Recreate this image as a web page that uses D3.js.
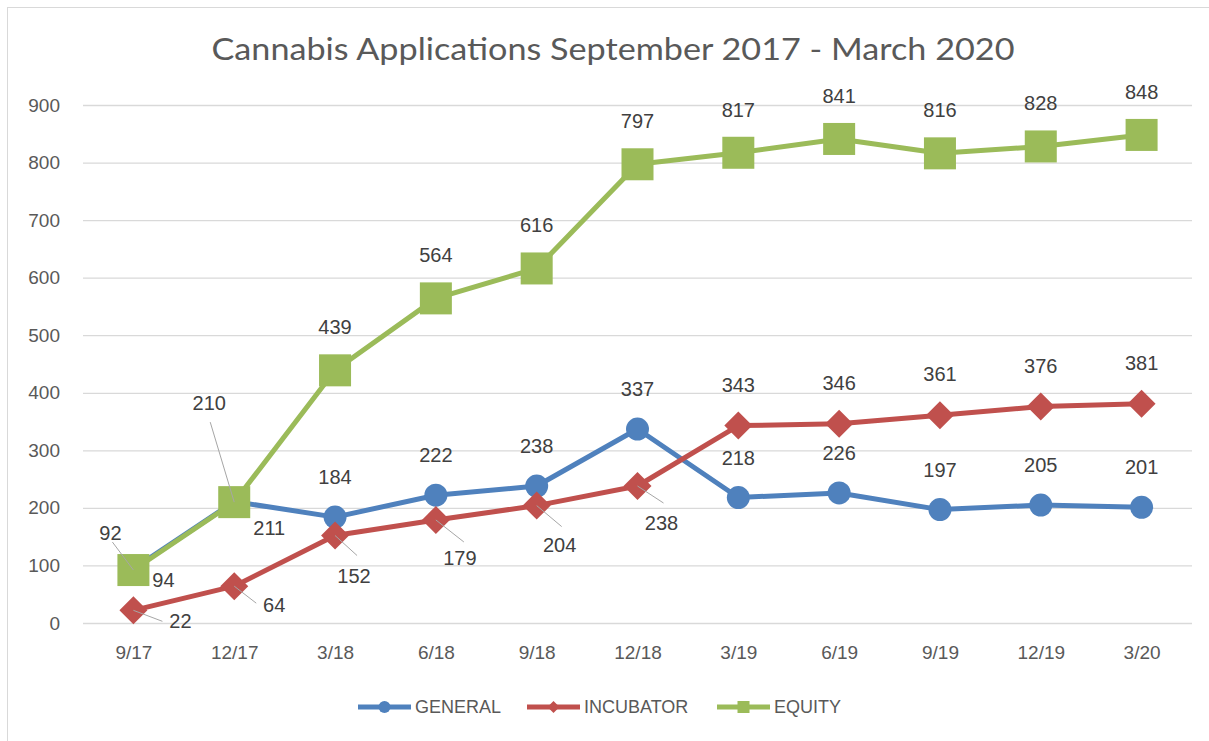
<!DOCTYPE html>
<html lang="en">
<head>
    <meta charset="UTF-8">
    <title>Cannabis Applications</title>
    <script src="https://d3js.org/d3.v7.min.js"></script>
    <style>
        body { margin: 0; background: #fff; }
        svg text { font-family: "Liberation Sans", Arial, sans-serif; }
    </style>
</head>
<body>
<svg id="chart" width="1209" height="741"></svg>
<script>
// data
var quarters = ["9/17", "12/17", "3/18", "6/18", "9/18", "12/18", "3/19", "6/19", "9/19", "12/19", "3/20"];
var general = [94, 211, 184, 222, 238, 337, 218, 226, 197, 205, 201];
var incubator = [22, 64, 152, 179, 204, 238, 343, 346, 361, 376, 381];
var equity = [92, 210, 439, 564, 616, 797, 817, 841, 816, 828, 848];
var yTicks = [0, 100, 200, 300, 400, 500, 600, 700, 800, 900];

var series = [
    {name: "GENERAL", values: general, color: "#4f81bd", marker: "circle", labelDy: -40},
    {name: "INCUBATOR", values: incubator, color: "#c0504d", marker: "diamond", labelDy: -41},
    {name: "EQUITY", values: equity, color: "#9bbb59", marker: "square", labelDy: -43}
];

// labels that were dragged away from the default spot: [dx, dy, leaderX, leaderY]
var moved = {
    "GENERAL-0": [30, 11], "GENERAL-1": [35, 26],
    "INCUBATOR-0": [47, 11, 29, 11], "INCUBATOR-1": [40, 19, 22, 17],
    "INCUBATOR-2": [19, 40, 22, 20], "INCUBATOR-3": [24, 38, 28, 22],
    "INCUBATOR-4": [23, 39, 25, 21], "INCUBATOR-5": [24, 37, 26, 17],
    "EQUITY-0": [-23, -37, -21, -28], "EQUITY-1": [-25, -99, -24, -80]
};

var svg = d3.select("#chart");

// chart border (right and bottom fall outside the frame)
svg.append("rect")
    .attr("x", 7.5).attr("y", 7.5)
    .attr("width", 1230).attr("height", 760)
    .attr("fill", "none").attr("stroke", "#d9d9d9");

svg.append("text")
    .attr("x", 613).attr("y", 60)
    .attr("text-anchor", "middle")
    .attr("fill", "#595959")
    .style("font-family", "Lato, sans-serif")
    .style("font-size", "31px")
    .attr("textLength", 803)
    .attr("lengthAdjust", "spacingAndGlyphs")
    .text("Cannabis Applications September 2017 - March 2020");

var x = d3.scalePoint().domain(quarters).range([83, 1192]).padding(0.5);
var y = d3.scaleLinear().domain([0, 900]).range([623, 105]);

// gridlines
svg.append("g")
    .attr("transform", "translate(83,0)")
    .call(d3.axisLeft(y).tickValues(yTicks).tickSize(-1109).tickFormat(""))
    .call(function(g) {
        g.select(".domain").remove();
        g.selectAll("line").attr("stroke", "#d9d9d9").attr("stroke-width", 1.3);
    });

// y tick labels
svg.append("g")
    .attr("transform", "translate(60,0)")
    .call(d3.axisLeft(y).tickValues(yTicks).tickSize(0).tickPadding(0))
    .call(function(g) {
        g.select(".domain").remove();
        g.selectAll("text").attr("fill", "#595959").style("font-size", "19px");
    });

// x tick labels
svg.append("g")
    .attr("transform", "translate(0,623)")
    .call(d3.axisBottom(x).tickSize(0).tickPadding(23))
    .call(function(g) {
        g.select(".domain").remove();
        g.selectAll("text").attr("fill", "#595959").style("font-size", "19px");
    });

var line = d3.line()
    .x(function(d, i) { return x(quarters[i]); })
    .y(function(d) { return y(d); });

function drawMarker(g, type, color, size) {
    if (type === "circle") {
        g.append("circle").attr("r", size).attr("fill", color);
    } else if (type === "diamond") {
        g.append("path")
            .attr("d", "M0," + (-size) + "L" + size + ",0L0," + size + "L" + (-size) + ",0Z")
            .attr("fill", color);
    } else {
        g.append("rect")
            .attr("x", -size).attr("y", -size)
            .attr("width", size * 2).attr("height", size * 2)
            .attr("fill", color);
    }
}

var markerSize = {circle: 11.5, diamond: 14, square: 16};

series.forEach(function(s) {
    var g = svg.append("g");
    g.append("path")
        .datum(s.values)
        .attr("d", line)
        .attr("fill", "none")
        .attr("stroke", s.color)
        .attr("stroke-width", 5)
        .attr("stroke-linejoin", "round");

    s.values.forEach(function(v, i) {
        var m = g.append("g")
            .attr("transform", "translate(" + x(quarters[i]) + "," + y(v) + ")");
        drawMarker(m, s.marker, s.color, markerSize[s.marker]);
    });
});

// data labels on top of everything
series.forEach(function(s) {
    s.values.forEach(function(v, i) {
        var px = x(quarters[i]), py = y(v);
        var off = moved[s.name + "-" + i];
        var dx = 0, dy = s.labelDy;
        if (off) {
            dx = off[0]; dy = off[1];
            if (off.length > 2) {
                svg.append("line")
                    .attr("x1", px).attr("y1", py)
                    .attr("x2", px + off[2]).attr("y2", py + off[3])
                    .attr("stroke", "#a6a6a6").attr("stroke-width", 1);
            }
        }
        svg.append("text")
            .attr("x", px + dx).attr("y", py + dy)
            .attr("text-anchor", "middle")
            .attr("dominant-baseline", "central")
            .attr("fill", "#404040")
            .style("font-size", "20px")
            .text(v);
    });
});

// legend
var legendItems = [
    {s: series[0], x: 358},
    {s: series[1], x: 527},
    {s: series[2], x: 717}
];
legendItems.forEach(function(it) {
    var g = svg.append("g").attr("transform", "translate(" + it.x + ",707)");
    g.append("line")
        .attr("x1", 0).attr("x2", 53)
        .attr("stroke", it.s.color).attr("stroke-width", 5);
    var m = g.append("g").attr("transform", "translate(26.5,0)");
    drawMarker(m, it.s.marker, it.s.color, 6);
    g.append("text")
        .attr("x", 57).attr("y", 0)
        .attr("dominant-baseline", "central")
        .attr("fill", "#595959")
        .style("font-size", "18px")
        .text(it.s.name);
});
</script>
</body>
</html>
